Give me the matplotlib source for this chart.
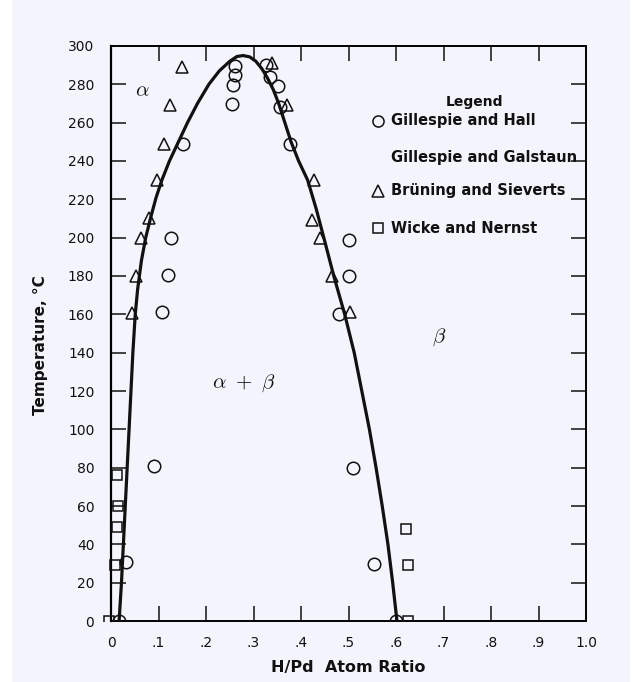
import numpy as np
import matplotlib.pyplot as plt
from matplotlib.patches import Rectangle

plt.rcParams['font.family'] = ['DejaVu Sans']
plt.rcParams['mathtext.fontset'] = 'cm'

# phase boundary (H/Pd ratio, temperature in C)
curve_x = [0.017, 0.022, 0.026, 0.030, 0.034, 0.038, 0.042, 0.046, 0.051, 0.056,
           0.064, 0.073, 0.084, 0.095, 0.107, 0.123, 0.142, 0.161, 0.182, 0.206,
           0.228, 0.250, 0.265, 0.278, 0.292, 0.305, 0.318, 0.330, 0.342, 0.353,
           0.366, 0.379, 0.395, 0.414, 0.432, 0.448, 0.469, 0.492, 0.512, 0.528,
           0.544, 0.558, 0.571, 0.583, 0.593, 0.602]
curve_t = [0, 20, 40, 60, 80, 100, 120, 140, 160, 173,
           188, 200, 211, 221, 230, 240, 250, 260, 270, 280,
           287, 292, 294.5, 295, 294.3, 292, 288, 283, 277, 270,
           260, 250, 240, 230, 215, 200, 180, 160, 140, 120,
           100, 80, 60, 40, 20, 0]

# Gillespie and Hall
hall_x = [0.262, 0.262, 0.256, 0.255, 0.152, 0.126, 0.121, 0.107, 0.091, 0.031, 0.017,
          0.326, 0.335, 0.351, 0.356, 0.377, 0.502, 0.500, 0.481, 0.510, 0.553, 0.600]
hall_t = [289.5, 284.7, 279.8, 269.6, 249, 200, 180.5, 161, 81, 31, 0,
          290, 284, 279, 268, 249, 199, 180, 160, 80, 30, 0]

# Bruning and Sieverts
brun_x = [0.149, 0.124, 0.112, 0.096, 0.079, 0.063, 0.053, 0.044,
          0.338, 0.370, 0.427, 0.423, 0.439, 0.465, 0.503]
brun_t = [289, 269, 249, 230, 210, 200, 180, 160.5,
          291, 269, 230, 209, 200, 180, 161]

# Wicke and Nernst
wick_x = [0.013, 0.014, 0.012, 0.008, -0.005, 0.620, 0.625, 0.625]
wick_t = [76, 60, 49, 29, 0, 48, 29, 0]

legend_labels = ['Gillespie and Hall', 'Gillespie and Galstaun',
                 'Br\u00fcning and Sieverts', 'Wicke and Nernst']
legend_markers = ['o', None, '^', 's']

x_ticks = [0, 0.1, 0.2, 0.3, 0.4, 0.5, 0.6, 0.7, 0.8, 0.9, 1.0]
x_labels = ['0', '.1', '.2', '.3', '.4', '.5', '.6', '.7', '.8', '.9', '1.0']
y_ticks = list(range(0, 301, 20))

bg = '#f4f5fc'
ink = '#111111'

fig = plt.figure(figsize=(6.41, 6.82), dpi=100, facecolor=bg)
# white scanner margins at both sides
fig.patches.append(Rectangle((0, 0), 12 / 641, 1, transform=fig.transFigure,
                             facecolor='white', edgecolor='none', zorder=-1))
fig.patches.append(Rectangle((630 / 641, 0), 11 / 641, 1, transform=fig.transFigure,
                             facecolor='white', edgecolor='none', zorder=-1))
ax = fig.add_axes([0.1732, 0.0894, 0.741, 0.8432], facecolor=bg)

ax.plot(curve_x, curve_t, color=ink, lw=2.3, solid_capstyle='round',
        solid_joinstyle='round', zorder=3)

clip = Rectangle((-0.2, 0), 1.4, 1.2, transform=ax.transAxes)
mk = dict(linestyle='none', mfc='none', mec=ink, mew=1.1, zorder=4, clip_on=True)
for xs, ts, m, s in [(hall_x, hall_t, 'o', 9), (brun_x, brun_t, '^', 8.5),
                     (wick_x, wick_t, 's', 7.5)]:
    ln, = ax.plot(xs, ts, marker=m, ms=s, **mk)
    ln.set_clip_path(clip)

ax.set_xlim(0, 1.0)
ax.set_ylim(0, 300)

ax.set_xticks(x_ticks)
ax.set_xticklabels(x_labels)
ax.set_yticks(y_ticks)
ax.tick_params(axis='both', direction='in', top=True, right=True,
               length=10.5, width=1.1, color=ink, labelsize=10, labelcolor=ink)
ax.tick_params(axis='y', pad=12)
ax.tick_params(axis='x', pad=11)
for side in ['top', 'bottom', 'right']:
    ax.spines[side].set_linewidth(1.4)
ax.spines['left'].set_linewidth(1.6)
for t in ax.get_xticklines() + ax.get_yticklines():
    t.set_zorder(2)
# hide tick marks at the frame edges
for t in ax.xaxis.get_major_ticks()[::10] + ax.yaxis.get_major_ticks()[::15]:
    t.tick1line.set_visible(False)
    t.tick2line.set_visible(False)

ax.set_xlabel('H/Pd  Atom Ratio', fontsize=11.5, fontweight='bold', labelpad=7, color=ink)
ax.set_ylabel('Temperature, \u00b0C', fontsize=11, fontweight='bold', color=ink)
ax.yaxis.set_label_coords(-0.133, 0.48)

ax.text(0.065, 277, r'$\alpha$', fontsize=15, ha='center', va='center', color=ink)
ax.text(0.69, 148, r'$\beta$', fontsize=15, ha='center', va='center', color=ink)
ax.text(0.28, 124, r'$\alpha\ +\ \beta$', fontsize=15, ha='center', va='center', color=ink)

# hand-drawn style legend
ax.text(0.766, 0.903, 'Legend', transform=ax.transAxes, fontsize=10,
        fontweight='bold', ha='center', va='center', color=ink)
rows = [0.870, 0.806, 0.748, 0.683]
for lab, m, yy in zip(legend_labels, legend_markers, rows):
    if m is not None:
        ax.plot([0.563], [yy], marker=m, ms=8 if m != 's' else 7.5, mfc='none',
                mec=ink, mew=1.1, transform=ax.transAxes, clip_on=False)
    ax.text(0.59, yy, lab, transform=ax.transAxes, fontsize=10.5, fontweight='bold',
            ha='left', va='center', color=ink)

fig.savefig('out.png', dpi=100, facecolor=bg)
